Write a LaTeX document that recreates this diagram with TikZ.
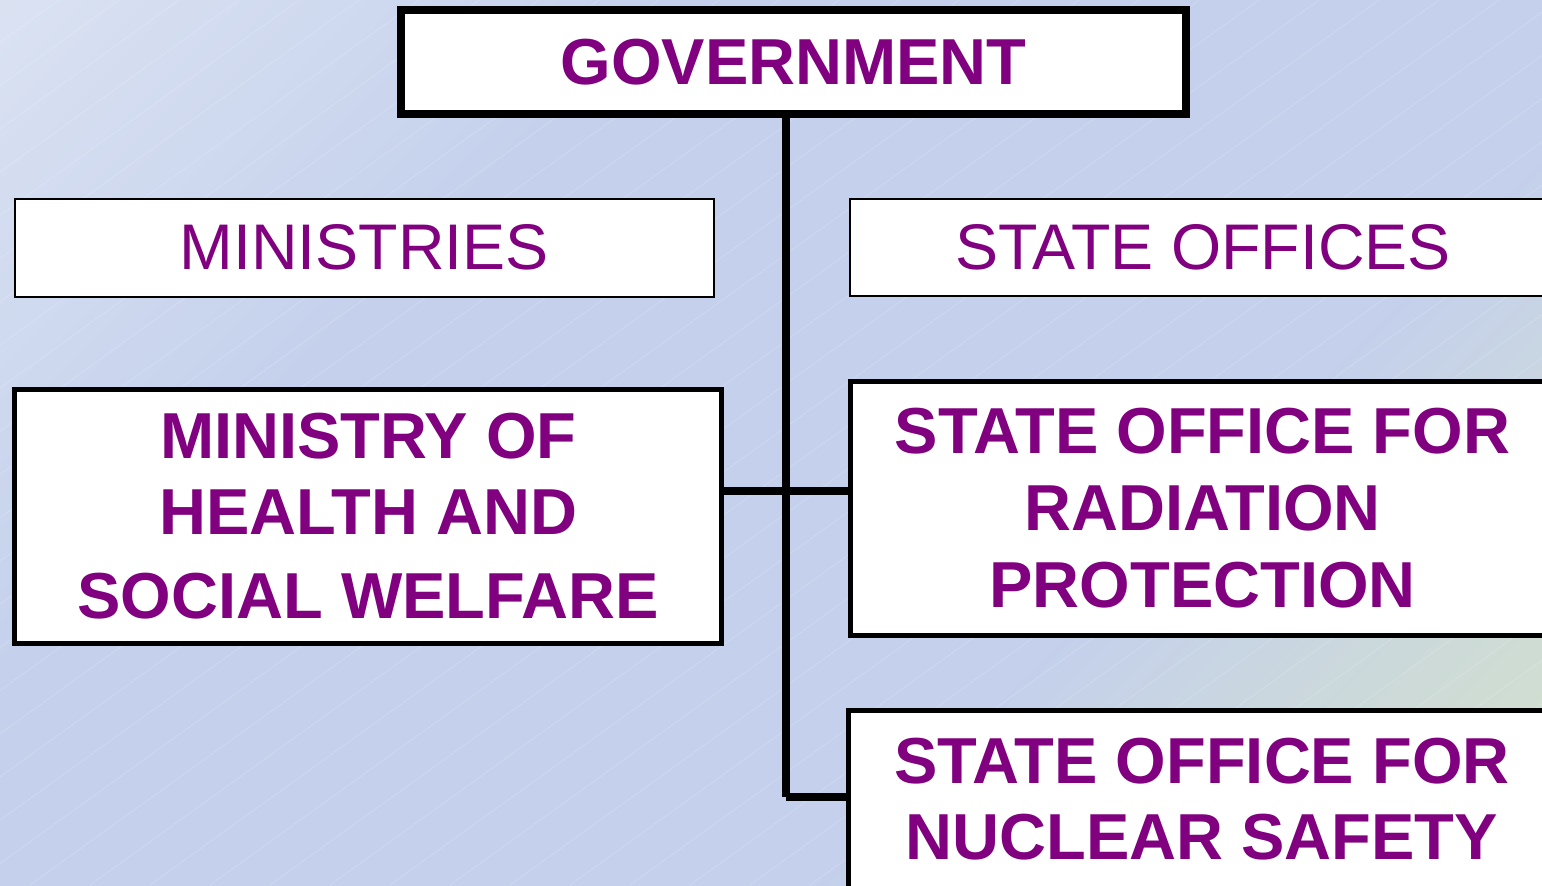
\documentclass[tikz,border=0pt]{standalone}
\usepackage{fontspec}
\setmainfont{Liberation Sans}
\definecolor{bgL}{RGB}{218,226,242}
\definecolor{bgB}{RGB}{196,208,236}
\definecolor{bgG}{RGB}{212,226,200}
\definecolor{txtpurple}{RGB}{128,0,128}
\pgfdeclareverticalshading{bgshade}{100bp}{color(0bp)=(bgG); color(14.6bp)=(bgG); color(36bp)=(bgB); color(65bp)=(bgB); color(85.4bp)=(bgL); color(100bp)=(bgL)}
\begin{document}
\begin{tikzpicture}[x=1bp,y=-1bp,
  box/.style={draw=black, fill=white, inner sep=0pt, align=center, text=txtpurple},
  boldtext/.style={font=\bfseries\fontsize{65bp}{76.7bp}\selectfont},
  plaintext/.style={font=\fontsize{64.5bp}{76.7bp}\selectfont},
  thinbox/.style={box, plaintext, line width=2bp},
  thickbox/.style={box, boldtext, line width=5bp},
  govbox/.style={box, boldtext, line width=8bp},
  conn/.style={draw=black, line width=7.5bp},
  hatch/.style={draw=white, opacity=0.2, line width=0.7bp}]
\useasboundingbox (0,0) rectangle (1542,885);
\begin{scope}
  \clip (0,0) rectangle (1542,885);
  \shade[shading=bgshade, shading angle=45] (0,0) rectangle (1542,885);
  \foreach \i in {-1230,-1170,...,1560} \draw[hatch] (\i,885) -- ++(1229,-885);
\end{scope}

\coordinate (ttop) at (786,114);
\coordinate (tbot) at (786,797);
\coordinate (hy) at (786,491);

\node[govbox, minimum width=785bp, minimum height=104bp] (gov) at (793.5,62) {\raisebox{-2bp}{GOVERNMENT}};
\node[thinbox, minimum width=698.5bp, minimum height=97.5bp] (min) at (364.25,247.75) {MINISTRIES};
\node[thinbox, minimum width=706bp, minimum height=97bp] (so) at (1203,247.5) {STATE OFFICES};
\node[thickbox, minimum width=706.5bp, minimum height=254.5bp] (health) at (368.25,516.25)
  {MINISTRY OF\\HEALTH AND\\[7.3bp]SOCIAL WELFARE};
\node[thickbox, minimum width=705bp, minimum height=254bp] (rad) at (1202.5,508)
  {STATE OFFICE FOR\\RADIATION\\PROTECTION};
\node[thickbox, minimum width=707bp, minimum height=178bp] (nuc) at (1202,799)
  {STATE OFFICE FOR\\NUCLEAR SAFETY};

\draw[conn] (ttop) -- (tbot);
\draw[conn] (health.east |- hy) -- (rad.west |- hy);
\draw[conn] (tbot) -- (nuc.west |- tbot);
\end{tikzpicture}
\end{document}
